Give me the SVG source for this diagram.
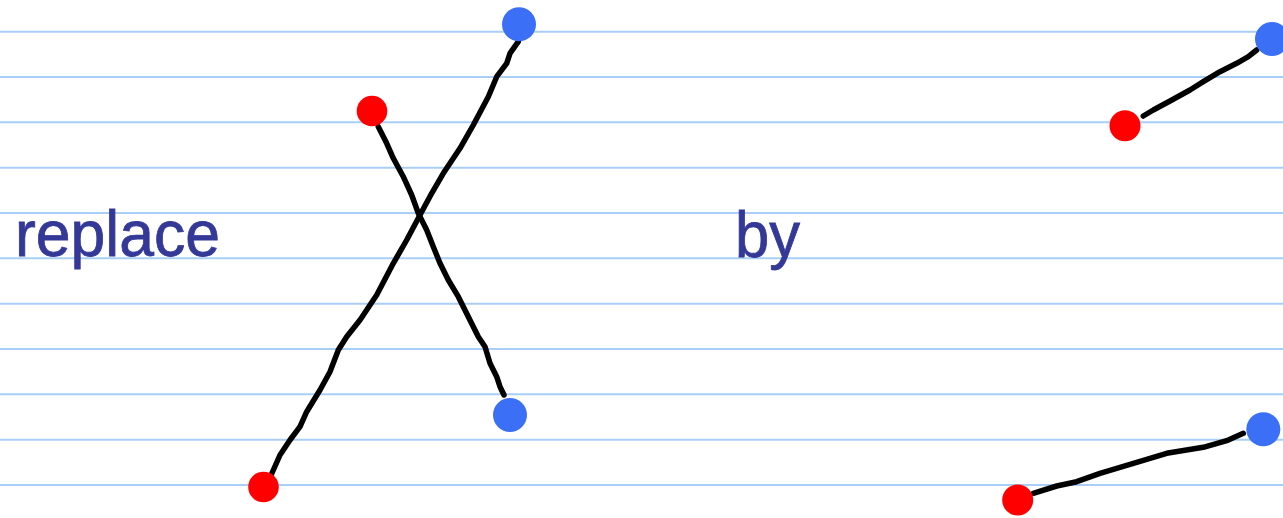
<svg xmlns="http://www.w3.org/2000/svg" width="1283" height="518" viewBox="0 0 1283 518">
<style>
.rule{stroke:#a9cff7;stroke-width:2}
.stroke{fill:none;stroke:#000;stroke-width:5.5;stroke-linecap:round;stroke-linejoin:round}
.red{fill:#ff0000}
.blue{fill:#3a6ff6}
.hand{font-family:"Liberation Sans",Arial,sans-serif;fill:#343897;stroke:#343897;stroke-width:0.8}
</style>
<rect width="1283" height="518" fill="#ffffff"/>
<g id="ruling">
<line class="rule" x1="0" y1="31.7" x2="1283" y2="31.7"/>
<line class="rule" x1="0" y1="77" x2="1283" y2="77"/>
<line class="rule" x1="0" y1="122.3" x2="1283" y2="122.3"/>
<line class="rule" x1="0" y1="167.7" x2="1283" y2="167.7"/>
<line class="rule" x1="0" y1="213" x2="1283" y2="213"/>
<line class="rule" x1="0" y1="258.3" x2="1283" y2="258.3"/>
<line class="rule" x1="0" y1="303.7" x2="1283" y2="303.7"/>
<line class="rule" x1="0" y1="349" x2="1283" y2="349"/>
<line class="rule" x1="0" y1="394.3" x2="1283" y2="394.3"/>
<line class="rule" x1="0" y1="439.7" x2="1283" y2="439.7"/>
<line class="rule" x1="0" y1="485" x2="1283" y2="485"/>
</g>
<g id="labels">
<text class="hand" x="15" y="256" font-size="64" textLength="205" lengthAdjust="spacingAndGlyphs">replace</text>
<text class="hand" x="735" y="257" font-size="64" textLength="65" lengthAdjust="spacingAndGlyphs">by</text>
</g>
<g id="connectors">
<polyline class="stroke" points="270.7,476 280,455 290,440 300,426.7 306.7,411.7 320,390 330,371.7 338.3,350 346.7,336.7 360,320 376.7,295 393.3,263.3 406.7,240 420,215 431.7,193.3 443.3,173.3 460,148.3 473.3,125 488.3,96.7 496.7,76.7 506.7,63.3 510,53.3 518.3,41.7"/>
<polyline class="stroke" points="378.3,126.7 386.7,143.3 393.3,158.3 403.3,176.7 411.7,195 418.3,213.3 426.7,230 433.3,246.7 440,263.3 448.3,280 458.3,296.7 468.3,316.7 478.3,336.7 485,346.7 490,363.3 496.7,376.7 500,386.7 504,395"/>
<polyline class="stroke" points="1143.3,116 1153.3,110 1170,101 1190,90 1203.3,81.7 1220,71.7 1236.7,63.3 1248.3,56.7 1256.7,50"/>
<polyline class="stroke" points="1033.3,493.3 1056.7,486 1076.7,481.7 1100,473.3 1130,464.3 1166.7,453.3 1203.3,447.3 1226.7,440.7 1243.3,433.3"/>
</g>
<g id="n-red-bottom-left"><circle class="red" cx="263.5" cy="487" r="15.3"/></g>
<g id="n-red-top-left"><circle class="red" cx="372" cy="111" r="15.3"/></g>
<g id="n-blue-top-left"><circle class="blue" cx="519" cy="24.3" r="17"/></g>
<g id="n-blue-bottom-left"><circle class="blue" cx="510" cy="415" r="17"/></g>
<g id="n-red-top-right"><circle class="red" cx="1125" cy="125.7" r="15.5"/></g>
<g id="n-blue-top-right"><circle class="blue" cx="1272" cy="39" r="17"/></g>
<g id="n-red-bottom-right"><circle class="red" cx="1017.7" cy="500" r="15.5"/></g>
<g id="n-blue-bottom-right"><circle class="blue" cx="1263.3" cy="429.3" r="17"/></g>
</svg>
